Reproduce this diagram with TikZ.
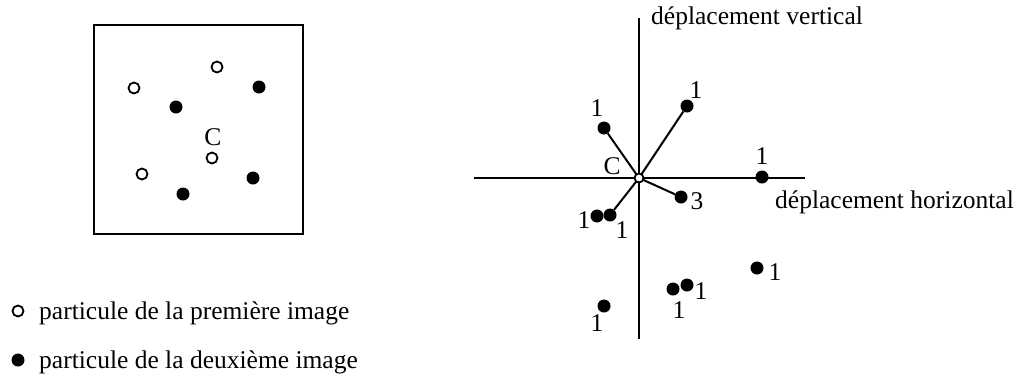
\documentclass[tikz,border=0pt]{standalone}
\usepackage{fontspec}
\setmainfont{Liberation Serif}
\begin{document}
\begin{tikzpicture}[x=1pt,y=-1pt,
  lbl/.style={font=\fontsize{25.5}{30}\selectfont, inner sep=0pt},
  full/.style={circle, fill=black, minimum size=13pt, inner sep=0pt},
  open/.style={circle, draw=black, line width=1.8pt, fill=white, minimum size=11pt, inner sep=0pt},
  ax/.style={line width=2pt}]
\useasboundingbox (0,0) rectangle (1022,376);
% left box
\node[draw, line width=2pt, minimum width=209pt, minimum height=209pt, inner sep=0pt] (box) at (198.5,129.5) {};
\node[open] (o1) at (134,88) {};
\node[open] (o2) at (217,67) {};
\node[open] (o3) at (212,158) {};
\node[open] (o4) at (142,174) {};
\node[full] (f1) at (176,107) {};
\node[full] (f2) at (259,87) {};
\node[full] (f3) at (253,178) {};
\node[full] (f4) at (183,194) {};
\node[lbl] (cl) at (213,137) {C};
% legend
\node[open] (lo) at (18,311) {};
\node[lbl, anchor=base west] (lot) at (39,319) {particule de la première image};
\node[full] (lf) at (18,360) {};
\node[lbl, anchor=base west] (lft) at (39,368) {particule de la deuxième image};
% right plot
\coordinate (xl) at (474,178);
\coordinate (xr) at (805,178);
\coordinate (yt) at (639,18);
\coordinate (yb) at (639,339);
\draw[ax] (xl) -- (xr);
\draw[ax] (yt) -- (yb);
\node[lbl, anchor=base west] (vt) at (651,24) {déplacement vertical};
\node[lbl, anchor=base west] (ht) at (775,208) {déplacement horizontal};
\node[full] (a) at (604,128) {};
\node[full] (b) at (687,106) {};
\node[full] (c) at (762,177) {};
\node[full] (d) at (681,197) {};
\node[full] (e1) at (597,216) {};
\node[full] (e2) at (610,215) {};
\node[full] (g) at (757,268) {};
\node[full] (h1) at (673,289) {};
\node[full] (h2) at (687,285) {};
\node[full] (k) at (604,306) {};
\coordinate (oc) at (639,178);
\draw[ax] (oc) -- (a);
\draw[ax] (oc) -- (b);
\draw[ax] (oc) -- (d);
\draw[ax] (oc) -- (e2);
\node[circle, draw=black, line width=1.8pt, fill=white, minimum size=9pt, inner sep=0pt] (o) at (oc) {};
\node[lbl] (co) at (612,166) {C};
\node[lbl] (la) at (597,108) {1};
\node[lbl] (lb) at (696,90) {1};
\node[lbl] (lc) at (762,156) {1};
\node[lbl] (ld) at (697,201) {3};
\node[lbl] (le1) at (584,220) {1};
\node[lbl] (le2) at (622,230) {1};
\node[lbl] (lg) at (775,272) {1};
\node[lbl] (lh2) at (701,291) {1};
\node[lbl] (lh1) at (679,310) {1};
\node[lbl] (lk) at (597,323) {1};
\end{tikzpicture}
\end{document}
